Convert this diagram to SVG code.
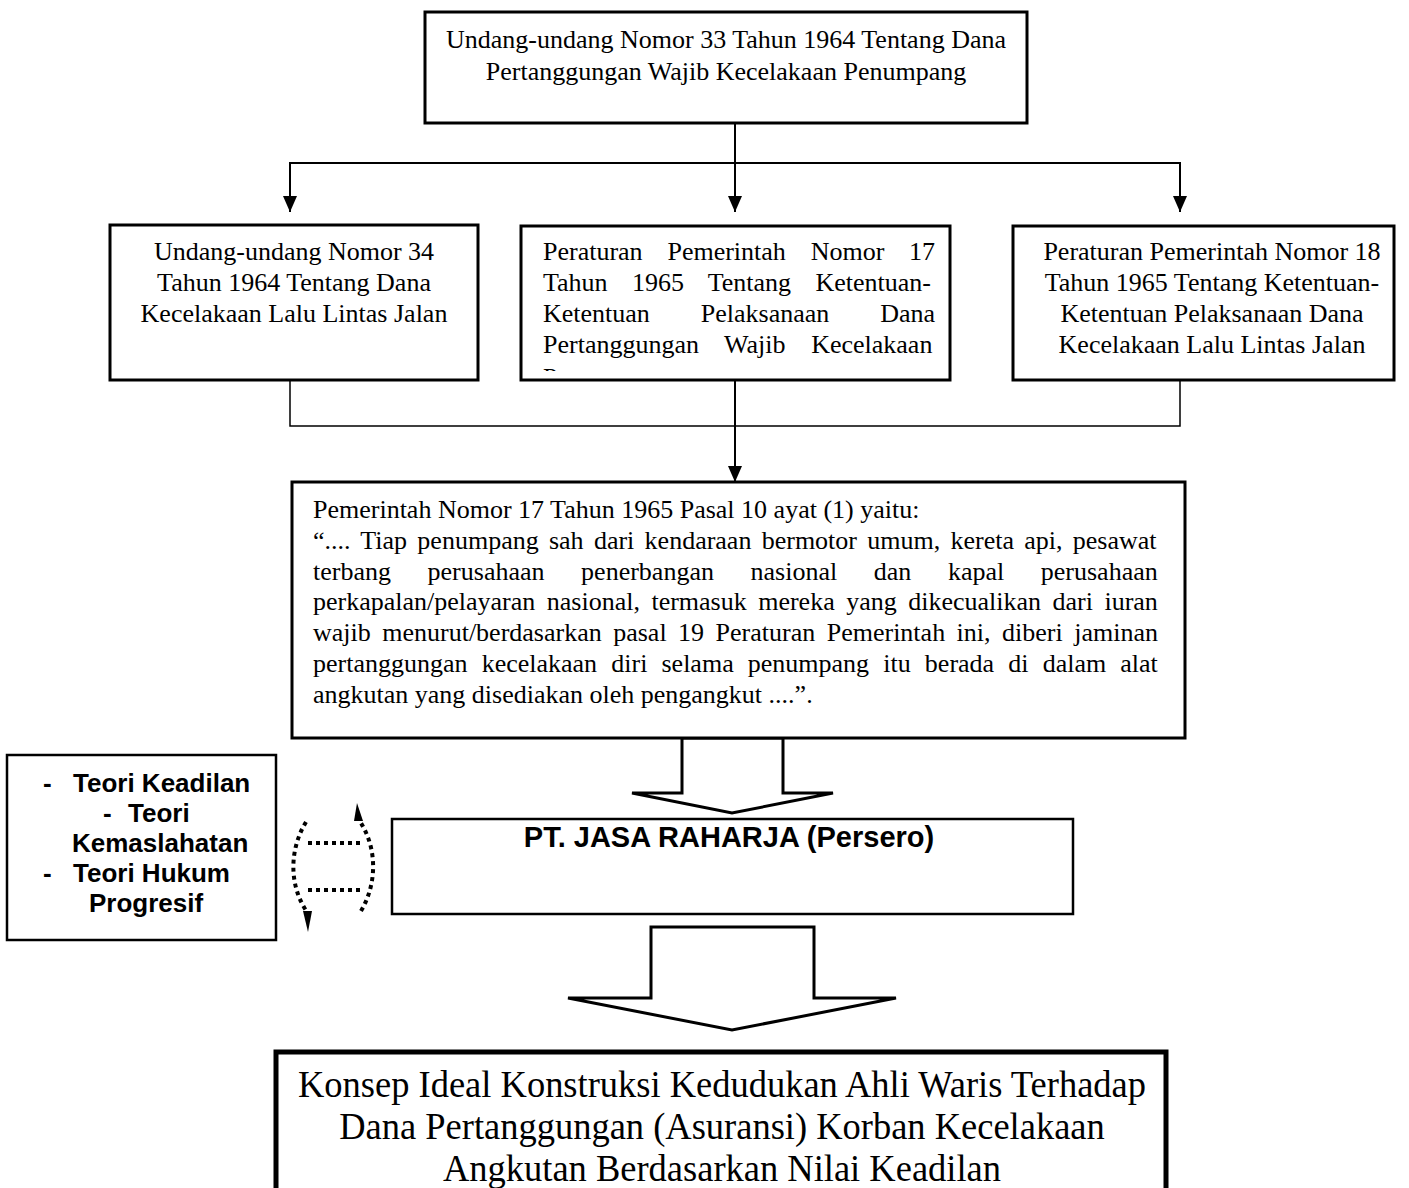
<svg xmlns="http://www.w3.org/2000/svg" width="1409" height="1188" viewBox="0 0 1409 1188">
<style>
.box{fill:#fff;stroke:#000;stroke-width:3}
.t{font-family:"Liberation Serif","Times New Roman",serif;font-size:26px;fill:#000}
.b{font-family:"Liberation Sans",Arial,sans-serif;font-size:26px;font-weight:bold;fill:#000}
.c{text-anchor:middle}
.ln{fill:none;stroke:#000;stroke-width:2}
.thin{fill:none;stroke:#000;stroke-width:1.5}
.hollow{fill:#fff;stroke:#000;stroke-width:3;stroke-linejoin:miter}
.dot{fill:none;stroke:#000;stroke-width:4;stroke-dasharray:4 4}
.big{font-size:38px}
</style>
<defs>
<marker id="ah" markerUnits="userSpaceOnUse" markerWidth="16" markerHeight="14" refX="16" refY="7" orient="auto">
<path d="M0,0 L16,7 L0,14 z" fill="#000"/>
</marker>
<clipPath id="clip2"><rect x="521" y="226" width="436" height="145"/></clipPath>
</defs>

<g id="connectors">
<line class="ln" x1="735" y1="113" x2="735" y2="212" marker-end="url(#ah)"/>
<line class="ln" x1="290" y1="163" x2="1180" y2="163"/>
<line class="ln" x1="290" y1="162" x2="290" y2="212" marker-end="url(#ah)"/>
<line class="ln" x1="1180" y1="162" x2="1180" y2="212" marker-end="url(#ah)"/>
<path class="thin" d="M290,380 V426 H1180 V380"/>
<line class="ln" x1="735" y1="380" x2="735" y2="482" marker-end="url(#ah)"/>
<polygon class="hollow" points="682,738 682,793 632,793 732,813 833,793 783,793 783,738"/>
<polygon class="hollow" points="651,927 651,998 568,998 732,1030 896,998 814,998 814,927"/>
<g id="double-arrow">
<path class="dot" d="M306,822 C290,848 288,884 307,912"/>
<polygon points="303,911 312,911 308,932" fill="#000"/>
<path class="dot" d="M361,911 C377,884 378,848 359,820"/>
<polygon points="354,821 363,821 357,803" fill="#000"/>
<path class="dot" d="M308,843 H360"/>
<path class="dot" d="M308,890 H360"/>
</g>
</g>

<g id="node-uu33">
<rect class="box" x="425" y="12" width="602" height="111"/>
<text class="t c" x="726" y="48">Undang-undang Nomor 33 Tahun 1964 Tentang Dana</text>
<text class="t c" x="726" y="80">Pertanggungan Wajib Kecelakaan Penumpang</text>
</g>

<g id="node-uu34">
<rect class="box" x="110" y="225" width="368" height="155"/>
<text class="t c" x="294" y="260">Undang-undang Nomor 34</text>
<text class="t c" x="294" y="291">Tahun 1964 Tentang Dana</text>
<text class="t c" x="294" y="322">Kecelakaan Lalu Lintas Jalan</text>
</g>

<g id="node-pp17">
<rect class="box" x="521" y="226" width="429" height="154"/>
<g clip-path="url(#clip2)">
<text class="t" x="543" y="260" word-spacing="18.3">Peraturan Pemerintah Nomor 17</text>
<text class="t" x="543" y="291" word-spacing="17.8">Tahun 1965 Tentang Ketentuan-</text>
<text class="t" x="543" y="322" word-spacing="44.4">Ketentuan Pelaksanaan Dana</text>
<text class="t" x="543" y="353" word-spacing="19.1">Pertanggungan Wajib Kecelakaan</text>
<text class="t" x="543" y="386">Penumpang</text>
</g>
</g>

<g id="node-pp18">
<rect class="box" x="1013" y="226" width="381" height="154"/>
<text class="t c" x="1212" y="260">Peraturan Pemerintah Nomor 18</text>
<text class="t c" x="1212" y="291">Tahun 1965 Tentang Ketentuan-</text>
<text class="t c" x="1212" y="322">Ketentuan Pelaksanaan Dana</text>
<text class="t c" x="1212" y="353">Kecelakaan Lalu Lintas Jalan</text>
</g>

<g id="node-pasal">
<rect class="box" x="292" y="482" width="893" height="256"/>
<text class="t" x="313" y="518">Pemerintah Nomor 17 Tahun 1965 Pasal 10 ayat (1) yaitu:</text>
<text class="t" x="313" y="549" word-spacing="3.78">“.... Tiap penumpang sah dari kendaraan bermotor umum, kereta api, pesawat</text>
<text class="t" x="313" y="580" word-spacing="30.1">terbang perusahaan penerbangan nasional dan kapal perusahaan</text>
<text class="t" x="313" y="610" word-spacing="4.98">perkapalan/pelayaran nasional, termasuk mereka yang dikecualikan dari iuran</text>
<text class="t" x="313" y="641" word-spacing="4.99">wajib menurut/berdasarkan pasal 19 Peraturan Pemerintah ini, diberi jaminan</text>
<text class="t" x="313" y="672" word-spacing="7.64">pertanggungan kecelakaan diri selama penumpang itu berada di dalam alat</text>
<text class="t" x="313" y="703">angkutan yang disediakan oleh pengangkut ....”.</text>
</g>

<g id="node-teori">
<rect class="box" x="7" y="755" width="269" height="185" style="stroke-width:2.5"/>
<text class="b" x="43" y="792">-</text><text class="b" x="73" y="792">Teori Keadilan</text>
<text class="b" x="103" y="822">-</text><text class="b" x="128" y="822">Teori</text>
<text class="b" x="72" y="852">Kemaslahatan</text>
<text class="b" x="43" y="882">-</text><text class="b" x="73" y="882">Teori Hukum</text>
<text class="b" x="89" y="912">Progresif</text>
</g>

<g id="node-jasaraharja">
<rect class="box" x="392" y="819" width="681" height="95" style="stroke-width:2.5"/>
<text class="b c" x="729" y="847" style="font-size:29px">PT. JASA RAHARJA (Persero)</text>
</g>

<g id="node-konsep">
<rect class="box" x="276" y="1052" width="890" height="200" style="stroke-width:5"/>
<g transform="translate(722,0) scale(0.96,1)">
<text class="t c big" x="0" y="1097">Konsep Ideal Konstruksi Kedudukan Ahli Waris Terhadap</text>
<text class="t c big" x="0" y="1139">Dana Pertanggungan (Asuransi) Korban Kecelakaan</text>
<text class="t c big" x="0" y="1181">Angkutan Berdasarkan Nilai Keadilan</text>
</g>
</g>
</svg>
